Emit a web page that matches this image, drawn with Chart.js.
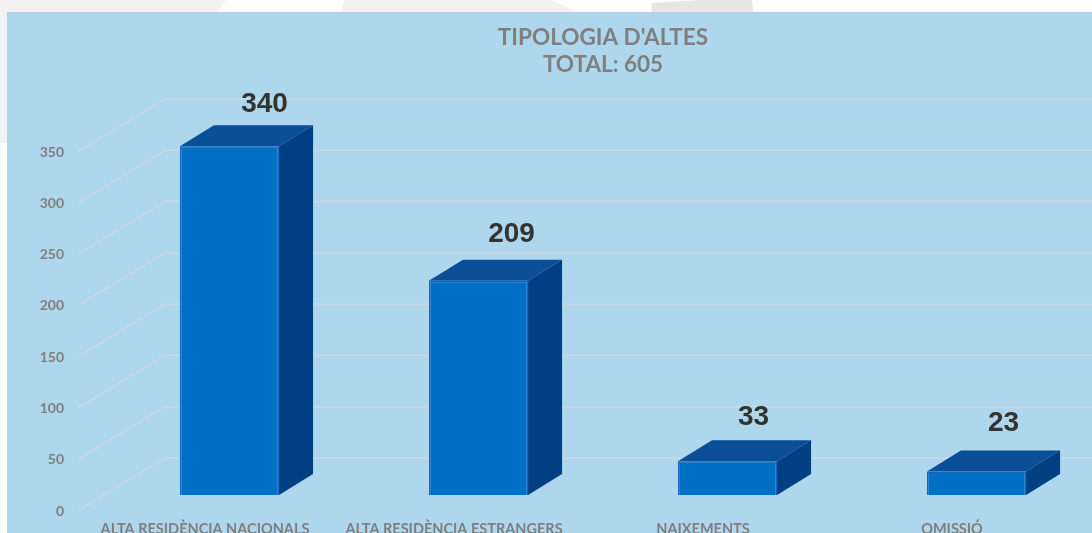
<!DOCTYPE html>
<html><head><meta charset="utf-8">
<style>
html,body{margin:0;padding:0;width:1092px;height:533px;overflow:hidden;background:#fff}
#deco{position:absolute;left:0;top:0;width:1092px;height:533px}
#panel{position:absolute;left:7px;top:12px;width:1085px;height:521px;background:#AED6EC;border-top:2px solid #B2CFEC;box-sizing:border-box}
#wrap{position:absolute;left:0;top:0;width:1092px;height:533px;overflow:hidden}
canvas{display:block}
</style></head><body>
<svg id="deco" viewBox="0 0 1092 533"><polygon points="0,0 226,0 205,30 160,143 0,143" fill="#f2f2f2"/><polygon points="344,0 550,0 578,12 578,30 335,30" fill="#f2f2f2"/><polygon points="652,3 700,0 752,0 755,30 650,30" fill="#e6e6e6"/></svg>
<div id="panel"></div>
<div id="wrap"><canvas id="c" width="1101" height="533" style="width:1101px;height:533px"></canvas></div>
<script src="https://cdn.jsdelivr.net/npm/chart.js@4"></script>
<script>
const categories=["ALTA RESIDÈNCIA NACIONALS","ALTA RESIDÈNCIA ESTRANGERS","NAIXEMENTS","OMISSIÓ"];
const values=[340,209,33,23];
const titleLines=["TIPOLOGIA D'ALTES","TOTAL: 605"];
const yMax=350, yStep=50;
const labelShift=[[35,-42],[33,-46],[26,-44],[27,-48]];

const DEPTH_X=34, DEPTH_Y=21;
const wall3d={
  id:'wall3d',
  beforeDatasetsDraw(chart){
    const {ctx,scales:{y},chartArea:a}=chart;
    ctx.save();
    ctx.strokeStyle='#C6D8E4';ctx.lineWidth=2;ctx.lineJoin='round';
    y.ticks.forEach(t=>{
      const p=y.getPixelForValue(t.value);
      ctx.beginPath();
      ctx.moveTo(a.left-26,p+15);
      ctx.lineTo(a.left+60,p-37);
      ctx.lineTo(chart.width,p-37);
      ctx.stroke();
    });
    ctx.restore();
  },
  afterDatasetsDraw(chart){
    const {ctx}=chart;
    const meta=chart.getDatasetMeta(0);
    ctx.save();
    meta.data.forEach((b,i)=>{
      const l=b.x-b.width/2,r=b.x+b.width/2,t=b.y,bt=b.base;
      ctx.fillStyle='#0A4F98';
      ctx.beginPath();ctx.moveTo(l,t);ctx.lineTo(l+DEPTH_X,t-DEPTH_Y);ctx.lineTo(r+DEPTH_X,t-DEPTH_Y);ctx.lineTo(r,t);ctx.closePath();ctx.fill();
      ctx.fillStyle='#004082';
      ctx.beginPath();ctx.moveTo(r,t);ctx.lineTo(r+DEPTH_X,t-DEPTH_Y);ctx.lineTo(r+DEPTH_X,bt-DEPTH_Y);ctx.lineTo(r,bt);ctx.closePath();ctx.fill();
      ctx.fillStyle='#333330';
      ctx.font='bold 28px "Liberation Sans"';ctx.textAlign='center';ctx.textBaseline='middle';
      ctx.fillText(String(values[i]),b.x+labelShift[i][0],t+labelShift[i][1]);
    });
    ctx.restore();
  }
};
new Chart(document.getElementById('c'),{
  type:'bar',
  data:{labels:categories,datasets:[{data:values,backgroundColor:'#0070C6',borderColor:'#1565C0',borderWidth:1.5,barPercentage:0.398,categoryPercentage:1}]},
  options:{
    responsive:false,animation:false,
    layout:{padding:0,autoPadding:false},
    plugins:{legend:{display:false},tooltip:{enabled:false},
      title:{display:true,fullSize:false,text:titleLines,color:'#7F7F7F',font:{family:'Lato',size:22.5,weight:'bold',lineHeight:1.2},padding:{top:24,bottom:58}}},
    scales:{
      x:{grid:{display:false,drawTicks:false},border:{display:false},
         ticks:{labelOffset:-24.5,padding:26,maxRotation:0,autoSkip:false,color:'#7F7F7F',font:{family:'Lato',size:14.5,weight:'bold'}},
         afterFit(s){s.height=38;s.paddingLeft=0;s.paddingRight=0;}},
      y:{min:0,max:yMax,grid:{display:false,drawTicks:false},border:{display:false},
         ticks:{stepSize:yStep,labelOffset:16,padding:41,color:'#7F7F7F',font:{family:'Lato',size:14,weight:'bold'}},
         afterFit(s){s.width=105;s.paddingTop=0;s.paddingBottom=0;}}
    }
  },
  plugins:[wall3d]
});
</script></body></html>
